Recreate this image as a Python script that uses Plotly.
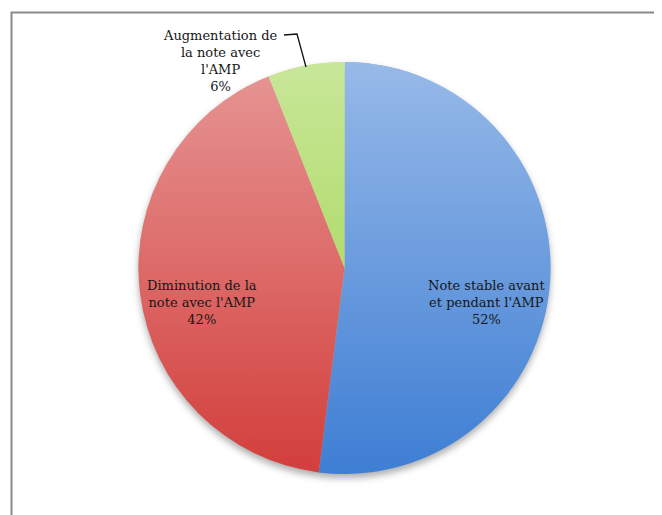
import base64
import plotly.graph_objects as go

# Data
labels = ["Note stable avant<br>et pendant l'AMP",
          "Diminution de la<br>note avec l'AMP",
          "Augmentation de<br>la note avec<br>l'AMP"]
values = [52, 42, 6]
colors = ["#3e7ed4", "#d23e3b", "#9ad242"]

OFF = 8                    # page body margin
W, H = 662 - OFF, 515 - OFF


def px(x):
    return (x - OFF) / W


def py(y):
    return 1 - (y - OFF) / H


CX, CY, R = 344.5, 268, 206

fig = go.Figure()
fig.add_trace(go.Pie(
    labels=labels,
    values=values,
    sort=False,
    direction="clockwise",
    rotation=0,
    textinfo="none",
    hoverinfo="label+percent",
    marker=dict(colors=colors, line=dict(color="white", width=0)),
    domain=dict(x=[px(CX - R), px(CX + R)], y=[py(CY + R), py(CY - R)]),
    showlegend=False,
))

# vertical light-to-dark shading over the pie (Excel gradient look)
shade = ('<svg xmlns="http://www.w3.org/2000/svg" viewBox="0 0 100 100">'
         '<defs><linearGradient id="g" x1="0" y1="0" x2="0" y2="1">'
         '<stop offset="0" stop-color="#ffffff" stop-opacity="0.46"/>'
         '<stop offset="1" stop-color="#ffffff" stop-opacity="0"/>'
         '</linearGradient></defs>'
         '<circle cx="50" cy="50" r="50" fill="url(#g)"/></svg>')
shadow = ('<svg xmlns="http://www.w3.org/2000/svg" viewBox="0 0 110 110">'
          '<defs><filter id="b" x="-20%" y="-20%" width="140%" height="140%">'
          '<feGaussianBlur stdDeviation="0.9"/></filter></defs>'
          '<circle cx="55" cy="56" r="50" fill="#000" fill-opacity="0.32" filter="url(#b)"/></svg>')


def uri(s):
    return "data:image/svg+xml;base64," + base64.b64encode(s.encode()).decode()


fig.add_layout_image(source=uri(shade), xref="paper", yref="paper",
                     x=px(CX - R), y=py(CY - R), sizex=2 * R / W, sizey=2 * R / H,
                     xanchor="left", yanchor="top", sizing="stretch", layer="above")
SR = R * 1.1
fig.add_layout_image(source=uri(shadow), xref="paper", yref="paper",
                     x=px(CX - SR), y=py(CY - SR), sizex=2 * SR / W, sizey=2 * SR / H,
                     xanchor="left", yanchor="top", sizing="stretch", layer="below")

total = sum(values)
label_pos = [(486, 302), (202, 302), (220, 61)]
for lab, v, (x, y) in zip(labels, values, label_pos):
    fig.add_annotation(
        x=px(x), y=py(y), xref="paper", yref="paper",
        text=f"{lab}<br>{round(100 * v / total)}%",
        showarrow=False, xanchor="center", yanchor="middle",
        font=dict(family="DejaVu Serif, serif", size=13, color="#161616"),
        align="center",
    )

# leader line for the small slice
fig.add_shape(type="path", xref="paper", yref="paper",
              path=f"M {px(284)} {py(35)} L {px(297)} {py(34)} L {px(306)} {py(67)}",
              line=dict(color="#111111", width=1.3))

# chart frame
fig.add_shape(type="rect", xref="paper", yref="paper",
              x0=px(11.5), y0=py(540), x1=px(690), y1=py(12.5),
              line=dict(color="#8a8a8a", width=2), fillcolor="rgba(0,0,0,0)")

fig.update_layout(
    width=W, height=H,
    margin=dict(l=0, r=0, t=0, b=0),
    paper_bgcolor="white",
    plot_bgcolor="rgba(0,0,0,0)",
)

fig.write_html("out.html")
